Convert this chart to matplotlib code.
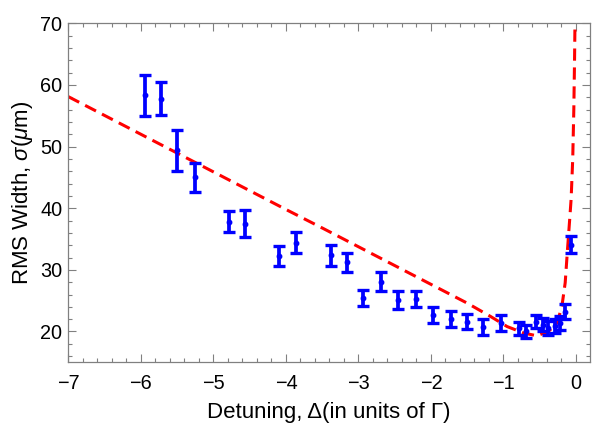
import matplotlib
matplotlib.use("Agg")
import matplotlib.pyplot as plt
from matplotlib.ticker import MultipleLocator

plt.rcParams['font.family'] = ['Liberation Sans', 'DejaVu Sans']
plt.rcParams['mathtext.fontset'] = 'custom'
plt.rcParams['mathtext.rm'] = 'Liberation Sans'
plt.rcParams['mathtext.it'] = 'Liberation Sans:italic'

# Measured data: detuning, RMS width, error
detuning = [-5.94, -5.72, -5.50, -5.26, -4.79, -4.57, -4.10, -3.86, -3.38, -3.16,
            -2.93, -2.69, -2.45, -2.21, -1.97, -1.73, -1.50, -1.28, -1.03, -0.79,
            -0.69, -0.55, -0.45, -0.38, -0.29, -0.22, -0.15, -0.07]
width = [58.3, 57.8, 49.4, 45.0, 37.8, 37.5, 32.2, 34.4, 32.4, 31.2,
         25.5, 28.1, 25.1, 25.3, 22.6, 22.0, 21.6, 20.7, 21.3, 20.5,
         20.0, 21.6, 21.1, 20.6, 20.9, 21.4, 23.2, 34.1]
err = [3.3, 2.6, 3.3, 2.4, 1.7, 2.2, 1.6, 1.7, 1.7, 1.6,
       1.3, 1.6, 1.4, 1.3, 1.3, 1.3, 1.2, 1.3, 1.3, 1.1,
       1.1, 1.1, 1.1, 1.1, 1.1, 1.1, 1.2, 1.4]

# Model curve
fit_x = [-7.0, -6.0, -5.0, -4.0, -3.5, -3.0, -2.5, -2.0, -1.5, -1.18, -0.95,
         -0.72, -0.54, -0.38, -0.26, -0.194, -0.149, -0.117, -0.085, -0.067,
         -0.045, -0.03, -0.02, -0.012]
fit_y = [58.1, 52.0, 45.9, 39.8, 36.8, 33.75, 30.7, 27.65, 24.6, 22.45, 20.8,
         19.75, 19.3, 20.0, 21.4, 24.1, 27.9, 33.3, 38.5, 41.5,
         48.0, 56.0, 64.0, 72.0]

xticks = [-7, -6, -5, -4, -3, -2, -1, 0]
xticklabels = ['\u22127', '\u22126', '\u22125', '\u22124', '\u22123', '\u22122', '\u22121', '0']
yticks = [20, 30, 40, 50, 60, 70]

fig = plt.figure(figsize=(5.92, 4.44), dpi=100)
ax = fig.add_axes([0.1154, 0.1854, 0.9966 - 0.1154, 0.9475 - 0.1854])

ax.plot(fit_x, fit_y, color='#ff0000', lw=2.2, dashes=(4, 2.2), zorder=2)
ax.errorbar(detuning, width, yerr=err, fmt='o', color='#0000ff', ms=3.2,
            elinewidth=2.7, capsize=4.0, capthick=2.4, zorder=3)

ax.set_xlim(-7.0, 0.193)
ax.set_ylim(15.1, 70)
ax.set_xticks(xticks)
ax.set_yticks(yticks)
ax.set_xticklabels(xticklabels)
ax.xaxis.set_minor_locator(MultipleLocator(0.2))
ax.yaxis.set_minor_locator(MultipleLocator(2))

frame_col = '#808080'
for sp in ax.spines.values():
    sp.set_color(frame_col)
    sp.set_linewidth(0.9)
ax.tick_params(which='both', direction='in', top=True, right=True,
               color=frame_col, width=0.8, labelsize=14.3, labelcolor='black')
ax.tick_params(which='major', length=5.5)
ax.tick_params(which='minor', length=3)
ax.tick_params(axis='x', which='major', pad=9)
ax.tick_params(axis='y', which='major', pad=4.3)

ax.set_xlabel('Detuning, \u0394(in units of \u0393)', fontsize=16, labelpad=6)
ax.set_ylabel(r'RMS Width, $\sigma(\mu\mathrm{m})$', fontsize=16, labelpad=4)

fig.savefig('out.png', dpi=100)
